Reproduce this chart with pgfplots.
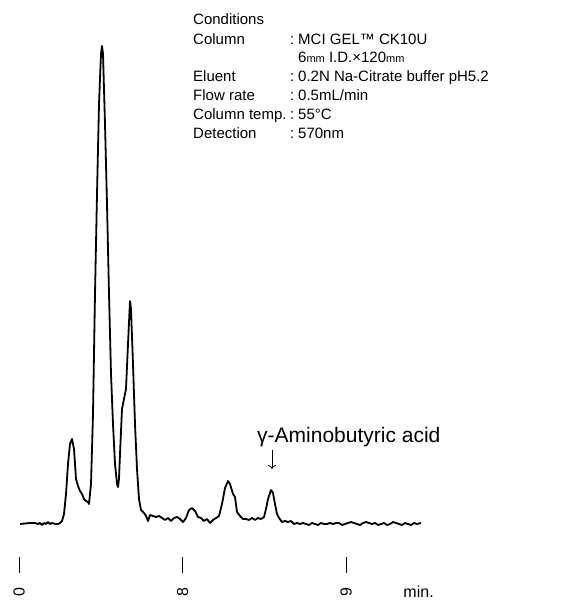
\documentclass[border=0pt]{standalone}
\usepackage{fontspec}
\setmainfont{Liberation Sans}
\usepackage{pgfplots}
\pgfplotsset{compat=1.18}
\usetikzlibrary{arrows.meta}
\begin{document}
\begin{tikzpicture}[x=1pt,y=1pt]
\path[use as bounding box] (0,0) rectangle (563,601);
\begin{axis}[
  at={(0pt,28pt)}, anchor=south west,
  scale only axis, width=563pt, height=573pt,
  xmin=-0.1162, xmax=3.3272, ymin=-49, ymax=524,
  axis x line*=bottom, axis y line=none,
  x axis line style={draw=none},
  xtick={0,1,2}, xticklabels={0,8,9},
  tick align=inside, major tick length=16pt,
  tick style={black, line width=0.8pt},
  xticklabel style={yshift=-19pt, rotate=90, anchor=center, font=\fontsize{16}{18}\selectfont},
  ytick=\empty,
  clip=false,
]
\addplot[black, line width=1.8pt, line join=round] table {
x y
0.0061 0
0.0367 0.5
0.0673 1
0.0979 1
0.1162 0
0.1284 1
0.1407 -1
0.1529 1
0.1651 0
0.1774 2
0.1896 0
0.2018 1
0.2202 0
0.2385 0
0.2508 1
0.2630 3
0.2752 10
0.2875 30
0.2997 60
0.3119 80
0.3242 85
0.3364 75
0.3486 45
0.3609 38
0.3731 33
0.3853 30
0.3976 25
0.4098 23
0.4220 22
0.4281 20
0.4404 40
0.4526 110
0.4648 230
0.4771 330
0.4893 420
0.5015 470
0.5076 478
0.5138 470
0.5260 400
0.5382 320
0.5505 230
0.5627 150
0.5749 100
0.5872 60
0.5994 40
0.6055 37
0.6116 45
0.6177 70
0.6300 115
0.6422 125
0.6544 135
0.6667 180
0.6789 223
0.6850 215
0.6972 160
0.7095 100
0.7217 55
0.7339 25
0.7462 14
0.7645 11
0.7768 8
0.7890 3
0.8012 9
0.8196 8
0.8379 7
0.8563 8
0.8746 6
0.8930 4
0.9113 6
0.9297 3
0.9480 6
0.9664 7
0.9847 5
1.0031 2
1.0214 6
1.0398 14
1.0581 16
1.0765 13
1.0948 7
1.1131 6
1.1315 3
1.1498 5
1.1682 1
1.1865 4
1.2049 6
1.2232 8
1.2416 20
1.2599 36
1.2783 43
1.2905 40
1.3089 30
1.3211 27
1.3333 12
1.3517 8
1.3700 5
1.3884 5
1.4067 4
1.4251 6
1.4434 4
1.4618 6
1.4801 5
1.4985 7
1.5107 15
1.5229 25
1.5413 34
1.5535 31
1.5657 20
1.5780 10
1.5902 6
1.6086 2
1.6269 3
1.6453 2
1.6636 3
1.6820 0
1.7003 1
1.7187 0
1.7370 1
1.7554 0
1.7737 -1
1.7920 1
1.8104 0
1.8287 -1
1.8471 1
1.8654 0
1.8838 0
1.9021 1
1.9205 0
1.9388 1
1.9572 1
1.9755 -1
1.9939 0
2.0122 1
2.0306 2
2.0489 1
2.0673 0
2.0856 -1
2.1040 1
2.1223 2
2.1407 1
2.1590 0
2.1774 1
2.1957 -1
2.2141 0
2.2324 1
2.2508 -1
2.2691 0
2.2875 2
2.3058 1
2.3242 0
2.3425 -1
2.3609 1
2.3792 0
2.3976 -1
2.4159 1
2.4343 0
2.4587 1
};
\node[anchor=west, font=\fontsize{16}{18}\selectfont] at (axis cs:2.33,-68) {min.};
\end{axis}
\begin{scope}[every node/.style={anchor=base west, inner sep=0pt, font=\fontsize{15}{18}\selectfont}]
\node at (193,576) {Conditions};
\node at (193,556) {Column};
\node at (193,519) {Eluent};
\node at (193,500) {Flow rate};
\node at (193,481) {Column temp.};
\node at (193,462) {Detection};
\node at (290,556) {:};
\node at (290,519) {:};
\node at (290,500) {:};
\node at (290,481) {:};
\node at (290,462) {:};
\node at (298,556) {MCI GEL™ CK10U};
\node at (298,538) {6{\fontsize{11}{13}\selectfont mm} I.D.×120{\fontsize{11}{13}\selectfont mm}};
\node at (298,519) {0.2N Na-Citrate buffer pH5.2};
\node at (298,500) {0.5mL/min};
\node at (298,481) {55°C};
\node at (298,462) {570nm};
\node[font=\fontsize{21}{24}\selectfont] at (257,158) {γ-Aminobutyric acid};
\end{scope}
\draw[line width=0.8pt, -{To[length=4pt,width=8pt]}] (272,151) -- (272,132);
\end{tikzpicture}
\end{document}
